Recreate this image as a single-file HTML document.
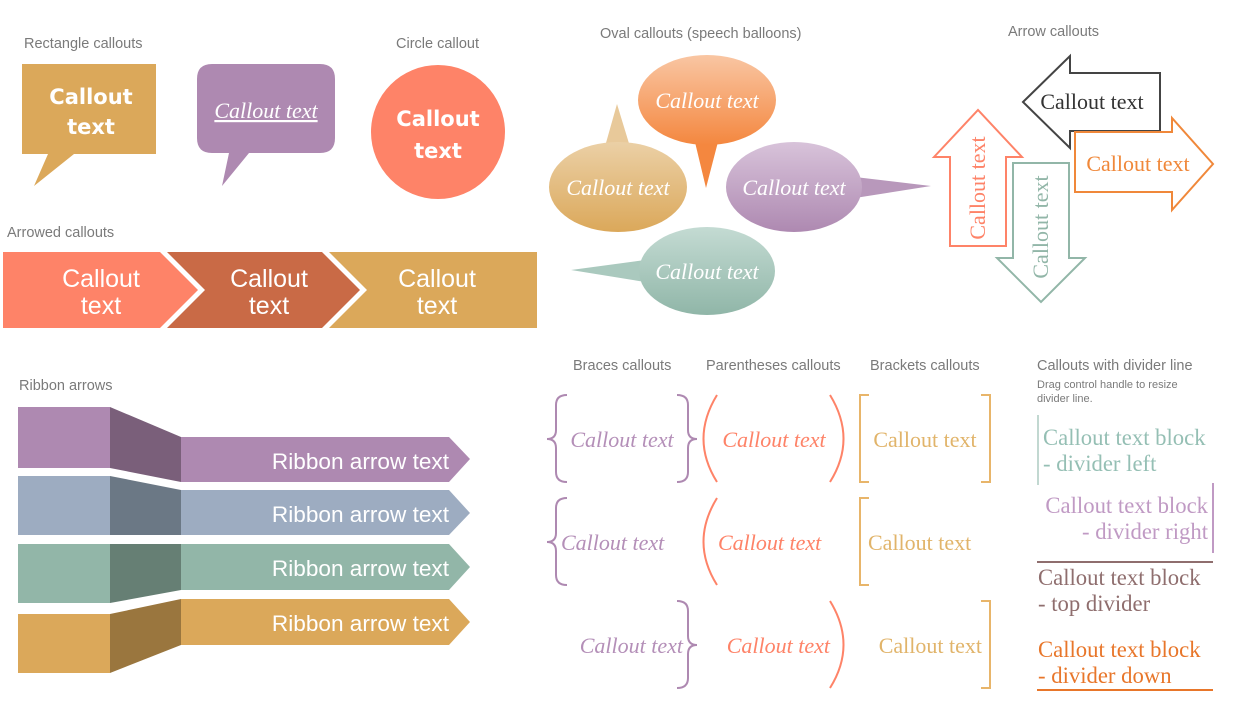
<!DOCTYPE html>
<html><head><meta charset="utf-8"><style>
html,body{margin:0;padding:0;background:#fff;}
svg{display:block;}
.h{font-family:"Liberation Sans",sans-serif;font-size:14.5px;fill:#7a7a7a;}
.ci{font-family:"Liberation Serif",serif;font-style:italic;font-size:22px;}
.cs{font-family:"Liberation Serif",serif;font-size:22px;}
.dv{font-family:"Liberation Serif",serif;font-size:22.7px;}
.rb{font-family:"Liberation Sans",sans-serif;font-size:22.6px;fill:#fff;text-anchor:end;}
.ar{font-family:"Liberation Sans",sans-serif;font-size:25px;fill:#fff;text-anchor:middle;}
.cm{font-family:"DejaVu Sans",sans-serif;font-weight:bold;font-size:21px;fill:#fff;text-anchor:middle;}
</style></head><body>
<svg width="1239" height="707" viewBox="0 0 1239 707" xmlns="http://www.w3.org/2000/svg">
<defs>
<linearGradient id="go" x1="0" y1="0" x2="0" y2="1"><stop offset="0" stop-color="#f9c6a3"/><stop offset="1" stop-color="#f4873f"/></linearGradient>
<linearGradient id="gt" x1="0" y1="0" x2="0" y2="1"><stop offset="0" stop-color="#ebd0a6"/><stop offset="1" stop-color="#dba85a"/></linearGradient>
<linearGradient id="gp" x1="0" y1="0" x2="0" y2="1"><stop offset="0" stop-color="#d8c3da"/><stop offset="1" stop-color="#ae89b1"/></linearGradient>
<linearGradient id="gg" x1="0" y1="0" x2="0" y2="1"><stop offset="0" stop-color="#c4dbd3"/><stop offset="1" stop-color="#90b6a8"/></linearGradient>
</defs>
<text class="h" x="24" y="48">Rectangle callouts</text>
<text class="h" x="396" y="48">Circle callout</text>
<text class="h" x="7" y="237">Arrowed callouts</text>
<text class="h" x="600" y="38">Oval callouts (speech balloons)</text>
<text class="h" x="1008" y="36">Arrow callouts</text>
<text class="h" x="19" y="390">Ribbon arrows</text>
<text class="h" x="573" y="370">Braces callouts</text>
<text class="h" x="706" y="370">Parentheses callouts</text>
<text class="h" x="870" y="370">Brackets callouts</text>
<text class="h" x="1037" y="370">Callouts with divider line</text>
<text class="h" x="1037" y="388" style="font-size:11px">Drag control handle to resize</text>
<text class="h" x="1037" y="402" style="font-size:11px">divider line.</text>

<path d="M22,64 H156 V154 H74 L34,186 L48,154 H22 Z" fill="#dba85a"/>
<text class="cm" x="91" y="104">Callout</text>
<text class="cm" x="91" y="134">text</text>
<path d="M212,64 H320 Q335,64 335,79 V138 Q335,153 320,153 H249 L222,186 L229,153 H212 Q197,153 197,138 V79 Q197,64 212,64 Z" fill="#ae89b1"/>
<text x="266" y="118" text-anchor="middle" style="font-family:'Liberation Serif',serif;font-style:italic;font-size:22px;fill:#fff;text-decoration:underline">Callout text</text>
<circle cx="438" cy="132" r="67" fill="#fe8368"/>
<text class="cm" x="438" y="126">Callout</text>
<text class="cm" x="438" y="158">text</text>

<polygon points="3,252 160,252 198,290 160,328 3,328" fill="#fe8368"/>
<polygon points="167,252 322,252 360,290 322,328 167,328 205,290" fill="#c96a46"/>
<polygon points="329,252 537,252 537,328 329,328 367,290" fill="#dba85a"/>
<text class="ar" x="101" y="287">Callout</text><text class="ar" x="101" y="314">text</text>
<text class="ar" x="269" y="287">Callout</text><text class="ar" x="269" y="314">text</text>
<text class="ar" x="437" y="287">Callout</text><text class="ar" x="437" y="314">text</text>

<polygon points="604,150 617,104 631,150" fill="#e8c99a"/>
<ellipse cx="618" cy="187" rx="69" ry="45" fill="url(#gt)"/>
<polygon points="694,138 706,188 719,138" fill="#f4873f"/>
<ellipse cx="707" cy="100" rx="69" ry="45" fill="url(#go)"/>
<polygon points="855,177 931,186 855,198" fill="#b898bb"/>
<ellipse cx="794" cy="187" rx="68" ry="45" fill="url(#gp)"/>
<polygon points="645,260 571,270 645,282" fill="#aac9be"/>
<ellipse cx="707" cy="271" rx="68" ry="44" fill="url(#gg)"/>
<g fill="#fff" text-anchor="middle" class="ci">
<text x="707" y="108">Callout text</text>
<text x="618" y="195">Callout text</text>
<text x="794" y="195">Callout text</text>
<text x="707" y="279">Callout text</text>
</g>

<polygon points="1023,102 1070,56 1070,73 1160,73 1160,131 1070,131 1070,148" fill="#fff" stroke="#444" stroke-width="2"/>
<text class="cs" x="1092" y="109" text-anchor="middle" fill="#333">Callout text</text>
<polygon points="934,157 978,110 1022,157 1006,157 1006,246 950,246 950,157" fill="#fff" stroke="#fe8368" stroke-width="2"/>
<text class="cs" fill="#fe8368" text-anchor="middle" transform="translate(985,188) rotate(-90)">Callout text</text>
<polygon points="1013,163 1069,163 1069,258 1085,258 1041,302 997,258 1013,258" fill="#fff" stroke="#92b6a8" stroke-width="2"/>
<text class="cs" fill="#92b6a8" text-anchor="middle" transform="translate(1048,227) rotate(-90)">Callout text</text>
<polygon points="1075,132 1172,132 1172,118 1213,164 1172,210 1172,192 1075,192" fill="#fff" stroke="#f0883a" stroke-width="2"/>
<text class="cs" fill="#f0883a" x="1138" y="171" text-anchor="middle">Callout text</text>

<rect x="18" y="407" width="92" height="61" fill="#ae89b1"/>
<polygon points="110,407 181,437 181,482 110,468" fill="#7a5f7a"/>
<polygon points="181,437 449,437 470,459 449,482 181,482" fill="#ae89b1"/>
<rect x="18" y="476" width="92" height="59" fill="#9dacc1"/>
<polygon points="110,476 181,490 181,535 110,535" fill="#6b7885"/>
<polygon points="181,490 449,490 470,513 449,535 181,535" fill="#9dacc1"/>
<rect x="18" y="544" width="92" height="59" fill="#92b6a8"/>
<polygon points="110,544 181,544 181,590 110,603" fill="#667f74"/>
<polygon points="181,544 449,544 470,567 449,590 181,590" fill="#92b6a8"/>
<rect x="18" y="614" width="92" height="59" fill="#dba85a"/>
<polygon points="110,614 181,599 181,645 110,673" fill="#9a763e"/>
<polygon points="181,599 449,599 470,622 449,645 181,645" fill="#dba85a"/>
<text class="rb" x="449" y="469">Ribbon arrow text</text>
<text class="rb" x="449" y="522">Ribbon arrow text</text>
<text class="rb" x="449" y="576">Ribbon arrow text</text>
<text class="rb" x="449" y="631">Ribbon arrow text</text>

<g fill="none" stroke-width="2">
<path d="M567,395 Q556,395 556,405 V430 Q556,439 547,439 Q556,439 556,448 V472 Q556,482 567,482" stroke="#ae89b1"/>
<path d="M677,395 Q688,395 688,405 V430 Q688,439 697,439 Q688,439 688,448 V472 Q688,482 677,482" stroke="#ae89b1"/>
<path d="M567,498 Q556,498 556,508 V533 Q556,542 547,542 Q556,542 556,551 V575 Q556,585 567,585" stroke="#ae89b1"/>
<path d="M677,601 Q688,601 688,611 V636 Q688,645 697,645 Q688,645 688,654 V678 Q688,688 677,688" stroke="#ae89b1"/>
<path d="M717,395 Q690,439 717,482" stroke="#fe8368"/>
<path d="M830,395 Q857,439 830,482" stroke="#fe8368"/>
<path d="M717,498 Q690,542 717,585" stroke="#fe8368"/>
<path d="M830,601 Q857,645 830,688" stroke="#fe8368"/>
<path d="M869,395 H860 V482 H869" stroke="#e8b56a"/>
<path d="M981,395 H990 V482 H981" stroke="#e8b56a"/>
<path d="M869,498 H860 V585 H869" stroke="#e8b56a"/>
<path d="M981,601 H990 V688 H981" stroke="#e8b56a"/>
</g>
<text class="ci" fill="#b48fb8" x="622" y="447" text-anchor="middle">Callout text</text>
<text class="ci" fill="#b48fb8" x="561" y="550">Callout text</text>
<text class="ci" fill="#b48fb8" x="683" y="653" text-anchor="end">Callout text</text>
<text class="ci" fill="#fe8368" x="774" y="447" text-anchor="middle">Callout text</text>
<text class="ci" fill="#fe8368" x="718" y="550">Callout text</text>
<text class="ci" fill="#fe8368" x="830" y="653" text-anchor="end">Callout text</text>
<text class="cs" fill="#e1b46a" x="925" y="447" text-anchor="middle">Callout text</text>
<text class="cs" fill="#e1b46a" x="868" y="550">Callout text</text>
<text class="cs" fill="#e1b46a" x="982" y="653" text-anchor="end">Callout text</text>

<line x1="1038" y1="415" x2="1038" y2="485" stroke="#c2d8d1" stroke-width="2"/>
<text class="dv" fill="#95bfb4" x="1043" y="445">Callout text block</text>
<text class="dv" fill="#95bfb4" x="1043" y="471">- divider left</text>
<line x1="1213" y1="483" x2="1213" y2="553" stroke="#c09ac4" stroke-width="2"/>
<text class="dv" fill="#c09ac4" x="1208" y="513" text-anchor="end">Callout text block</text>
<text class="dv" fill="#c09ac4" x="1208" y="539" text-anchor="end">- divider right</text>
<line x1="1037" y1="562" x2="1213" y2="562" stroke="#8f6e6e" stroke-width="2"/>
<text class="dv" fill="#8f6e6e" x="1038" y="585">Callout text block</text>
<text class="dv" fill="#8f6e6e" x="1038" y="611">- top divider</text>
<text class="dv" fill="#e8762a" x="1038" y="657">Callout text block</text>
<text class="dv" fill="#e8762a" x="1038" y="683">- divider down</text>
<line x1="1037" y1="690" x2="1213" y2="690" stroke="#e8762a" stroke-width="2"/>
</svg>
</body></html>
